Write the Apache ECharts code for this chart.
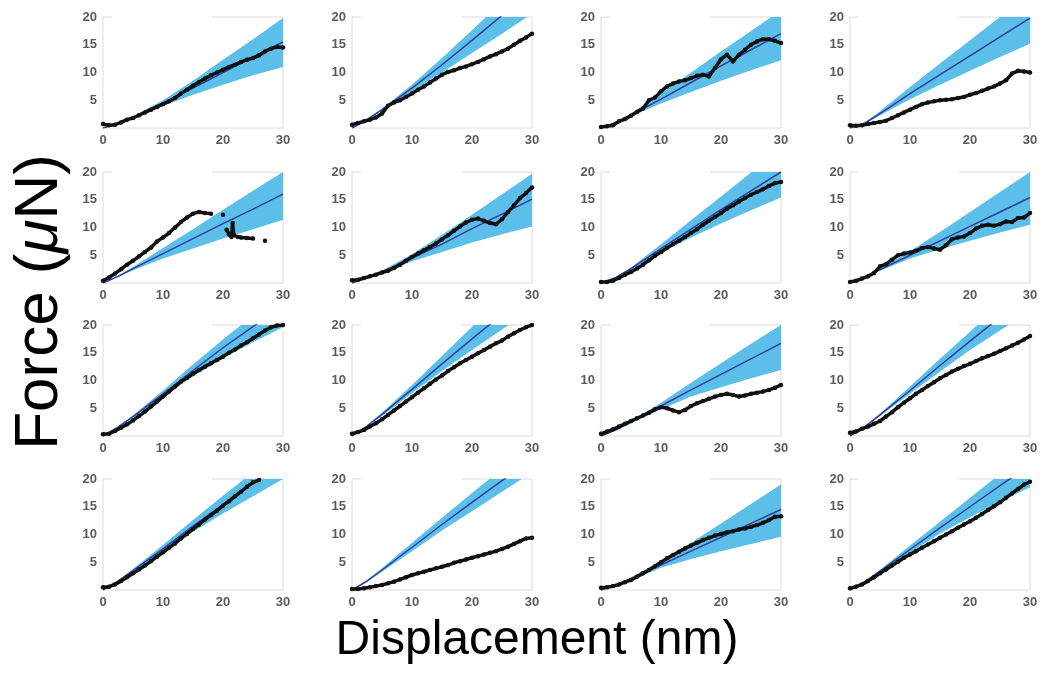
<!DOCTYPE html>
<html><head><meta charset="utf-8">
<script src="https://cdn.jsdelivr.net/npm/echarts@6/dist/echarts.min.js"></script>
<style>html,body{margin:0;padding:0;background:#fff}#c{width:1045px;height:673px}</style>
</head><body><div id="c"></div>
<script>
// ---- shared axes ----
const X_MODEL = [0, 2.5, 5, 10, 15, 20, 25, 30];
const X_DATA = [0,1,2,3,4,5,6,7,8,9,10,11,12,13,14,15,16,17,18,19,20,21,22,23,24,25,26,27,28,29,30];
const X_TICKS = [0, 10, 20, 30];
const Y_TICKS = [5, 10, 15, 20];
const X_TITLE = 'Displacement (nm)';
const Y_TITLE = 'Force ({i|μ}N)';

// ---- panel 1 (row 1, col 1) ----
const P1_MID = [0, 0.8, 1.9, 4.5, 7.2, 10.0, 12.8, 15.5];
const P1_UP  = [0, 0.9, 2.1, 5.0, 8.5, 12.3, 16.0, 19.8];
const P1_LOW = [0, 0.7, 1.7, 4.0, 6.0, 7.8, 9.5, 11.0];
const P1_DATA = [0.7,0.5,0.6,1.0,1.5,1.8,2.3,2.8,3.3,3.8,4.3,4.8,5.4,6.2,6.9,7.6,8.3,8.9,9.5,10.0,10.5,11.0,11.4,11.9,12.3,12.6,13.1,13.8,14.3,14.6,14.5];
// ---- panel 2 ----
const P2_MID = [0, 1.5, 3.3, 7.2, 11.4, 15.8, 20.3, 25.0];
const P2_UP  = [0, 1.6, 3.5, 7.8, 12.6, 17.6, 22.8, 28.0];
const P2_LOW = [0, 1.4, 3.1, 6.6, 10.0, 13.5, 17.0, 20.6];
const P2_DATA = [0.6,0.9,1.2,1.5,1.9,2.6,4.0,4.6,5.0,5.6,6.2,6.9,7.5,8.2,8.9,9.6,10.1,10.4,10.8,11.1,11.5,11.9,12.4,12.9,13.3,13.8,14.3,15.0,15.7,16.3,17.0];
// ---- panel 3 ----
const P3_MID = [0, 1.0, 2.3, 5.2, 8.2, 11.2, 14.1, 17.0];
const P3_UP  = [0, 1.1, 2.6, 6.2, 10.0, 13.8, 17.5, 21.2];
const P3_LOW = [0, 0.9, 2.1, 4.4, 6.5, 8.5, 10.4, 12.2];
const P3_DATA = [0.2,0.3,0.5,1.2,1.6,2.2,2.9,3.5,5.0,5.5,6.6,7.5,8.0,8.4,8.6,9.0,9.4,9.6,9.3,10.8,12.4,13.2,12.0,13.2,14.1,15.0,15.6,16.0,16.0,15.7,15.3];
// ---- panel 4 ----
const P4_MID = [0, 0.9, 2.6, 6.2, 9.6, 13.0, 16.4, 19.8];
const P4_UP  = [0, 1.0, 3.0, 7.4, 11.6, 15.8, 20.0, 24.2];
const P4_LOW = [0, 0.8, 2.3, 5.2, 7.8, 10.3, 12.8, 15.2];
const P4_DATA = [0.5,0.4,0.5,0.7,0.9,1.1,1.3,1.8,2.3,2.8,3.3,3.8,4.3,4.6,4.8,5.0,5.1,5.2,5.4,5.6,6.0,6.3,6.7,7.1,7.5,8.0,8.6,9.8,10.3,10.2,10.0];
// ---- panel 5 (row 2, col 1) ----
const P5_MID = [0, 1.2, 2.6, 5.3, 8.0, 10.7, 13.3, 16.0];
const P5_UP  = [0, 1.3, 2.9, 6.3, 9.7, 13.2, 16.6, 20.0];
const P5_LOW = [0, 1.1, 2.3, 4.4, 6.2, 8.0, 9.7, 11.4];
const P5_DATA = [[0,0.4],[1,1.0],[2,1.7],[3,2.5],[4,3.3],[5,4.0],[6,4.8],[7,5.6],[8,6.4],[9,7.5],[10,8.2],[11,9.0],[12,10.0],[13,11.0],[14,11.8],[15,12.5],[16,12.8],[17,12.6],[18,12.5],[19,null],[20,12.3],[20.3,null],[20.6,9.6],[21,8.8],[21.4,8.3],[21.6,10.8],[21.8,8.6],[22.5,8.3],[23,8.2],[24,8.1],[25,8.0],[26,null],[27,7.6]];
// ---- panel 6 ----
const P6_MID = [0, 0.9, 2.0, 4.5, 7.0, 9.8, 12.4, 15.1];
const P6_UP  = [0, 1.0, 2.2, 5.2, 8.7, 12.3, 16.0, 19.7];
const P6_LOW = [0, 0.8, 1.8, 3.9, 5.6, 7.3, 8.8, 10.2];
const P6_DATA = [0.5,0.6,0.9,1.2,1.5,1.9,2.2,2.7,3.3,4.0,4.7,5.3,5.9,6.5,7.1,7.9,8.6,9.4,10.2,10.9,11.4,11.6,11.2,10.8,10.6,11.5,12.8,14.0,15.3,16.2,17.2];
// ---- panel 7 ----
const P7_MID = [0, 1.0, 2.6, 6.2, 9.7, 13.2, 16.6, 20.0];
const P7_UP  = [0, 1.1, 2.8, 7.0, 11.3, 15.6, 19.9, 24.0];
const P7_LOW = [0, 0.9, 2.4, 5.5, 8.2, 10.7, 13.1, 15.4];
const P7_DATA = [0.2,0.2,0.4,0.9,1.5,2.0,2.6,3.3,4.1,4.9,5.6,6.3,7.0,7.6,8.3,9.0,9.7,10.5,11.2,11.9,12.6,13.4,14.0,14.7,15.3,15.9,16.4,16.9,17.5,18.0,18.2];
// ---- panel 8 ----
const P8_MID = [0, 1.1, 2.4, 5.0, 7.6, 10.2, 12.8, 15.4];
const P8_UP  = [0, 1.2, 2.6, 5.7, 9.2, 12.8, 16.4, 20.0];
const P8_LOW = [0, 1.0, 2.2, 4.4, 6.1, 7.6, 9.1, 10.5];
const P8_DATA = [0.2,0.4,0.8,1.2,1.8,3.0,3.4,4.2,5.0,5.3,5.5,5.8,6.3,6.5,6.2,6.0,6.8,7.9,8.2,8.4,9.0,9.8,10.3,10.5,10.3,10.6,11.1,11.0,11.7,11.8,12.6];
// ---- panel 9 (row 3, col 1) ----
const P9_MID = [0, 1.6, 3.5, 7.6, 11.8, 15.9, 19.7, 23.6];
const P9_UP  = [0, 1.7, 3.7, 8.2, 12.9, 17.4, 21.7, 26.0];
const P9_LOW = [0, 1.5, 3.3, 7.1, 10.7, 14.0, 16.9, 19.6];
const P9_DATA = [0.3,0.4,0.9,1.5,2.1,2.8,3.6,4.4,5.3,6.2,7.1,8.0,8.9,9.8,10.5,11.2,11.9,12.5,13.1,13.7,14.3,15.0,15.6,16.3,16.9,17.6,18.3,19.0,19.6,19.9,20.0];
// ---- panel 10 ----
const P10_MID = [0, 1.8, 3.9, 8.4, 13.0, 17.5, 21.9, 26.2];
const P10_UP  = [0, 1.9, 4.2, 9.2, 14.4, 19.7, 24.8, 29.9];
const P10_LOW = [0, 1.7, 3.6, 7.7, 11.7, 15.5, 19.2, 22.8];
const P10_DATA = [0.4,0.7,1.1,1.7,2.3,3.0,3.8,4.6,5.4,6.2,7.0,7.8,8.6,9.4,10.2,10.9,11.7,12.4,13.1,13.7,14.3,14.9,15.5,16.1,16.7,17.2,17.9,18.5,19.1,19.6,20.0];
// ---- panel 11 ----
const P11_MID = [0, 1.1, 2.5, 5.4, 8.3, 11.1, 13.9, 16.7];
const P11_UP  = [0, 1.2, 2.7, 6.0, 9.6, 13.1, 16.6, 20.0];
const P11_LOW = [0, 1.0, 2.3, 4.8, 7.1, 8.8, 10.4, 11.9];
const P11_DATA = [0.4,0.8,1.2,1.7,2.2,2.7,3.2,3.7,4.2,4.8,5.2,5.0,4.6,4.3,4.7,5.4,5.9,6.3,6.7,7.1,7.4,7.6,7.4,7.1,7.3,7.6,7.8,8.0,8.3,8.7,9.2];
// ---- panel 12 ----
const P12_MID = [0, 1.7, 3.8, 8.2, 12.7, 17.1, 21.4, 25.6];
const P12_UP  = [0, 1.8, 4.0, 8.9, 13.9, 18.8, 23.7, 28.6];
const P12_LOW = [0, 1.6, 3.6, 7.6, 11.6, 15.5, 19.0, 22.4];
const P12_DATA = [0.6,0.8,1.3,1.7,2.2,2.7,3.5,4.3,5.2,6.0,6.8,7.6,8.3,9.0,9.7,10.4,11.0,11.6,12.1,12.6,13.0,13.5,14.0,14.4,14.8,15.3,15.8,16.3,16.8,17.4,18.0];
// ---- panel 13 (row 4, col 1) ----
const P13_MID = [0, 1.6, 3.5, 7.4, 11.5, 15.4, 19.2, 23.0];
const P13_UP  = [0, 1.7, 3.8, 8.1, 12.6, 17.0, 21.2, 25.5];
const P13_LOW = [0, 1.5, 3.3, 6.9, 10.5, 13.8, 16.9, 20.0];
const P13_DATA = [0.5,0.6,1.0,1.6,2.3,3.0,3.7,4.4,5.2,6.0,6.8,7.6,8.4,9.3,10.1,11.0,11.8,12.7,13.5,14.3,15.2,16.0,16.9,17.7,18.6,19.4,19.8,null,null,null,null];
// ---- panel 14 ----
const P14_MID = [0, 1.6, 3.6, 7.7, 11.8, 15.8, 19.7, 23.6];
const P14_UP  = [0, 1.8, 3.9, 8.5, 13.0, 17.5, 21.8, 26.1];
const P14_LOW = [0, 1.5, 3.3, 7.0, 10.7, 14.2, 17.7, 21.2];
const P14_DATA = [0.2,0.2,0.3,0.5,0.7,0.9,1.2,1.5,1.9,2.3,2.7,3.0,3.3,3.6,3.9,4.2,4.5,4.9,5.2,5.5,5.8,6.1,6.4,6.7,7.0,7.4,7.8,8.3,8.8,9.3,9.4];
// ---- panel 15 ----
const P15_MID = [0, 0.9, 2.0, 4.5, 7.0, 9.5, 12.0, 14.5];
const P15_UP  = [0, 1.0, 2.3, 5.2, 8.5, 12.0, 15.5, 19.0];
const P15_LOW = [0, 0.8, 1.8, 4.0, 5.6, 7.0, 8.3, 9.6];
const P15_DATA = [0.4,0.5,0.7,1.0,1.4,1.8,2.4,3.0,3.6,4.3,5.0,5.7,6.3,6.9,7.5,8.0,8.5,9.0,9.4,9.8,10.1,10.4,10.6,10.9,11.1,11.4,11.7,12.1,12.6,13.2,13.3];
// ---- panel 16 ----
const P16_MID = [0, 1.5, 3.4, 7.3, 11.2, 15.0, 18.8, 22.5];
const P16_UP  = [0, 1.6, 3.6, 8.0, 12.3, 16.6, 20.9, 25.0];
const P16_LOW = [0, 1.4, 3.2, 6.7, 10.2, 13.1, 15.9, 18.5];
const P16_DATA = [0.3,0.6,1.0,1.6,2.3,3.0,3.7,4.4,5.1,5.8,6.4,7.0,7.6,8.2,8.8,9.4,10.0,10.6,11.2,11.8,12.4,13.0,13.7,14.4,15.1,15.8,16.6,17.4,18.2,19.0,19.5];

const PANELS = [
  [P1_MID,P1_UP,P1_LOW,P1_DATA],[P2_MID,P2_UP,P2_LOW,P2_DATA],[P3_MID,P3_UP,P3_LOW,P3_DATA],[P4_MID,P4_UP,P4_LOW,P4_DATA],
  [P5_MID,P5_UP,P5_LOW,P5_DATA],[P6_MID,P6_UP,P6_LOW,P6_DATA],[P7_MID,P7_UP,P7_LOW,P7_DATA],[P8_MID,P8_UP,P8_LOW,P8_DATA],
  [P9_MID,P9_UP,P9_LOW,P9_DATA],[P10_MID,P10_UP,P10_LOW,P10_DATA],[P11_MID,P11_UP,P11_LOW,P11_DATA],[P12_MID,P12_UP,P12_LOW,P12_DATA],
  [P13_MID,P13_UP,P13_LOW,P13_DATA],[P14_MID,P14_UP,P14_LOW,P14_DATA],[P15_MID,P15_UP,P15_LOW,P15_DATA],[P16_MID,P16_UP,P16_LOW,P16_DATA]
];

// ---- layout / style ----
const COL_LEFT = [103, 352, 601, 850];
const ROW_TOP = [17, 172, 325, 479];
const PW = 180, PH = 111;
const BAND = '#5bbfea', MID = '#2e3f99', DOTS = '#111111', FRAME = '#dcdcdc', LABEL = '#5a5a5a';
const FONT = 'Liberation Sans, Arial, Helvetica, sans-serif';

const grids = [], xAxes = [], yAxes = [], series = [], graphics = [];
PANELS.forEach((p, i) => {
  const r = Math.floor(i / 4), c = i % 4;
  const [mid, up, low, data] = p;
  grids.push({left: COL_LEFT[c], top: ROW_TOP[r], width: PW, height: PH, show: true, borderColor: FRAME, borderWidth: 1, backgroundColor: 'transparent'});
  xAxes.push({type: 'value', gridIndex: i, min: 0, max: 30, interval: 10,
    axisLine: {show: false}, axisTick: {show: false}, splitLine: {show: false},
    axisLabel: {color: LABEL, fontSize: 13, fontWeight: 'bold', fontFamily: FONT, margin: 6,
      formatter: v => X_TICKS.includes(v) ? String(v) : ''}});
  yAxes.push({type: 'value', gridIndex: i, min: 0, max: 20, interval: 5,
    axisLine: {show: false}, axisTick: {show: false}, splitLine: {show: false},
    axisLabel: {color: LABEL, fontSize: 13, fontWeight: 'bold', fontFamily: FONT, margin: 6,
      formatter: v => Y_TICKS.includes(v) ? String(v) : ''}});
  const midPts = X_MODEL.map((x, k) => [x, mid[k]]);
  let pts;
  if (Array.isArray(data[0])) pts = data.map(d => [d[0], d[1] == null ? '-' : d[1]]);
  else pts = X_DATA.map((x, k) => [x, data[k] == null ? '-' : data[k]]);
  // confidence band: polygon between upper and lower curves, placed through the axes
  series.push({type: 'custom', xAxisIndex: i, yAxisIndex: i, silent: true, z: 2, clip: true,
    data: [[0, 0]],
    renderItem: (params, api) => {
      const top = X_MODEL.map((x, k) => api.coord([x, up[k]]));
      const bot = X_MODEL.map((x, k) => api.coord([x, low[k]])).reverse();
      const cs = params.coordSys;
      return {type: 'polygon', shape: {points: top.concat(bot)}, style: {fill: BAND},
        clipPath: {type: 'rect', shape: {x: cs.x, y: cs.y, width: cs.width, height: cs.height}}};
    }});
  series.push({type: 'line', xAxisIndex: i, yAxisIndex: i, data: midPts,
    symbol: 'none', lineStyle: {color: MID, width: 1.5}, silent: true, z: 3});
  series.push({type: 'line', xAxisIndex: i, yAxisIndex: i, data: pts, connectNulls: false,
    symbol: 'circle', symbolSize: 4.5, showSymbol: true, showAllSymbol: true,
    itemStyle: {color: DOTS}, lineStyle: {color: DOTS, width: 3.5}, silent: true, z: 4});
  graphics.push({type: 'rect', left: COL_LEFT[c] + 9, top: ROW_TOP[r] - 3,
    shape: {width: 100, height: 20}, style: {fill: '#ffffff'}, z: 1, silent: true});
});

graphics.push({type: 'text', x: 40, y: 302, rotation: Math.PI / 2, z: 10,
  style: {text: Y_TITLE, fontSize: 62, fontFamily: FONT, fill: '#000', align: 'center', verticalAlign: 'middle',
    textAlign: 'center', textVerticalAlign: 'middle',
    rich: {i: {fontStyle: 'italic', fontSize: 62, fontFamily: FONT, fill: '#000'}}}});
graphics.push({type: 'text', x: 537, y: 641, z: 10,
  style: {text: X_TITLE, fontSize: 48, fontFamily: FONT, fill: '#000', align: 'center', verticalAlign: 'middle',
    textAlign: 'center', textVerticalAlign: 'middle'}});

const chart = echarts.init(document.getElementById('c'), null, {renderer: 'canvas'});
chart.setOption({animation: false, backgroundColor: '#fff', grid: grids, xAxis: xAxes, yAxis: yAxes, series: series, graphic: graphics});
</script></body></html>
